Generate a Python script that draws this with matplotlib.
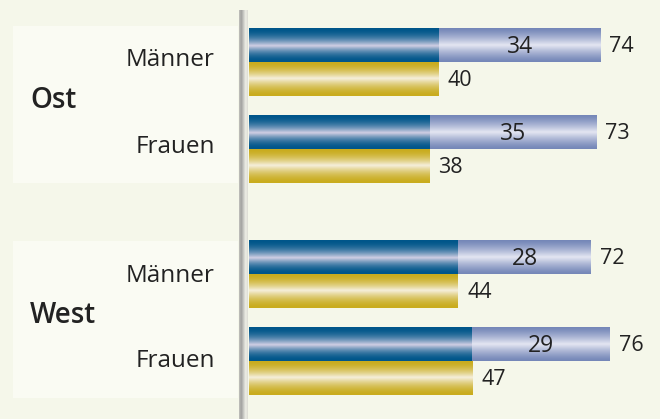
import numpy as np
import matplotlib
matplotlib.use("Agg")
import matplotlib.pyplot as plt
from matplotlib.colors import LinearSegmentedColormap
from matplotlib.patches import Rectangle

# Data
regions = ["Ost", "West"]
sexes = ["Männer", "Frauen"]
base_vals = [40, 38, 44, 47]     # yellow bar / dark blue part
extra_vals = [34, 35, 28, 29]    # light blue part
total_vals = [74, 73, 72, 76]

plt.rcParams['font.family'] = ['Open Sans', 'DejaVu Sans']

W, H = 660, 419
X0, SCALE = 249, 4.75  # pixel of zero, pixels per unit


def ux(px):
    return (px - X0) / SCALE


fig = plt.figure(figsize=(W / 100, H / 100), dpi=100)
bg = "#f5f7ea"
fig.patch.set_facecolor(bg)
ax = fig.add_axes([0, 0, 1, 1])
ax.set_facecolor(bg)


def grad(ax, x0, x1, y0, y1, edge, mid, center=0.5, sharp=1.0):
    t = np.linspace(0, 1, 64)
    d = np.abs(t - center) / np.where(t < center, center, 1 - center)
    w = np.clip(1 - d, 0, 1) ** sharp
    cmap = LinearSegmentedColormap.from_list("g", [edge, mid])
    img = w[:, None] * np.ones((1, 2))
    ax.imshow(img, cmap=cmap, vmin=0, vmax=1, extent=(x0, x1, y1, y0),
              aspect='auto', origin='upper', interpolation='bilinear', zorder=2)


# left label panels
panel_tops = [26, 241]
panel_h = 157
for top in panel_tops:
    ax.add_patch(Rectangle((ux(13), top), ux(238) - ux(13), panel_h,
                           facecolor="#fafbf3", edgecolor='none', zorder=1))

# vertical axis bar (grey gradient)
t = np.linspace(0, 1, 32)
axis_cmap = LinearSegmentedColormap.from_list(
    "ax", ["#c0c0bc", "#a0a09e", "#c8c8c4", "#eeefe6", "#dcdcd4"])
ax.imshow(t[None, :] * np.ones((2, 1)), cmap=axis_cmap, extent=(ux(239), ux(248), H, 11),
          aspect='auto', origin='upper', interpolation='bilinear', zorder=3)

bar_tops = [29, 116, 241, 328]
bh = 33.5
for i in range(4):
    top = bar_tops[i]
    b, e, tot = base_vals[i], extra_vals[i], total_vals[i]
    # top bar: dark blue part + light blue part
    grad(ax, 0, b, top, top + bh, "#00568a", "#d2cfe4", center=0.52, sharp=1.9)
    grad(ax, b, tot, top, top + bh, "#7587b8", "#e4e6f2", center=0.5, sharp=1.3)
    # yellow bar
    grad(ax, 0, b, top + bh, top + 2 * bh, "#c9ac1e", "#f5efdc", center=0.48, sharp=1.7)
    ax.text((b + tot) / 2, top + bh / 2 + 1, str(e), ha='center', va='center',
            fontsize=16.5, color="#222222", zorder=4)
    ax.text(tot + 9 / SCALE, top + bh / 2 + 1, str(tot),
            ha='left', va='center', fontsize=15.5, color="#222222", zorder=4)
    ax.text(b + 9 / SCALE, top + 1.5 * bh + 1, str(b), ha='left', va='center',
            fontsize=15.5, color="#222222", zorder=4)

# labels
sex_y = [60, 147, 276, 361]
for i in range(4):
    ax.text(ux(215), sex_y[i], sexes[i % 2], ha='right', va='center',
            fontsize=17.5, color="#222222", zorder=4)
region_y = [100, 315]
for i, r in enumerate(regions):
    ax.text(ux(30), region_y[i], r, ha='left', va='center', fontsize=20,
            fontweight='semibold', color="#222222", zorder=4)

ax.set_xlim(ux(0), ux(W))
ax.set_ylim(H, 0)
ax.axis('off')

fig.savefig("out.png", dpi=100, facecolor=bg)
